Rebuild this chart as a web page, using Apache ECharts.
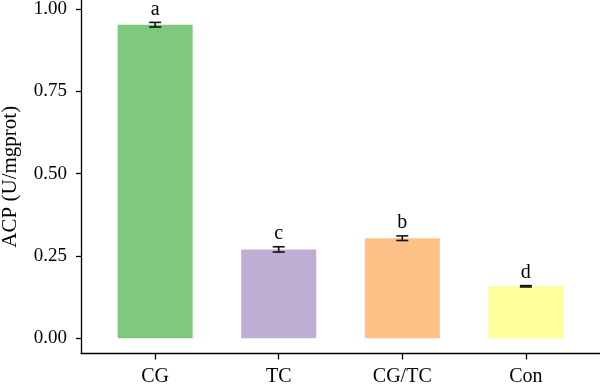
<!DOCTYPE html>
<html>
<head>
<meta charset="utf-8">
<script src="https://cdn.jsdelivr.net/npm/echarts@6/dist/echarts.min.js"></script>
<style>html,body{margin:0;padding:0;background:#fff}#c{width:600px;height:385px}</style>
</head>
<body>
<div id="c"></div>
<script>
const categories = ['CG', 'TC', 'CG/TC', 'Con'];
const positions = [1, 2, 3, 4];
const means = [0.952, 0.270, 0.304, 0.158];
const errors = [0.007, 0.008, 0.007, 0.002];
const letters = ['a', 'c', 'b', 'd'];
const colors = ['#7FC97F', '#BEAED4', '#FDC086', '#FFFF99'];
const yTicks = [0, 0.25, 0.5, 0.75, 1.0];

const FONT = 'Liberation Serif';
const chart = echarts.init(document.getElementById('c'), null, {renderer: 'canvas'});
chart.setOption({
  animation: false,
  backgroundColor: '#fff',
  grid: {left: 81, right: 0, top: 0, bottom: 31.5, containLabel: false, outerBoundsMode: 'none'},
  xAxis: {
    type: 'value', min: 0.4, max: 4.6,
    splitLine: {show: false},
    axisLine: {show: true, onZero: false, lineStyle: {color: '#000', width: 1.3}},
    axisTick: {show: true, length: 6, customValues: positions, lineStyle: {color: '#000', width: 1.3}},
    axisLabel: {customValues: positions, margin: 13, color: '#000', fontFamily: FONT, fontSize: 20,
      formatter: v => categories[Math.round(v) - 1]}
  },
  yAxis: {
    type: 'value', min: -0.046, max: 1.027,
    name: 'ACP (U/mgprot)', nameLocation: 'middle', nameGap: 60,
    nameTextStyle: {color: '#000', fontFamily: FONT, fontSize: 21},
    splitLine: {show: false},
    axisLine: {show: true, lineStyle: {color: '#000', width: 1.3}},
    axisTick: {show: true, length: 5, customValues: yTicks, lineStyle: {color: '#000', width: 1.3}},
    axisLabel: {customValues: yTicks, margin: 14, color: '#000', fontFamily: FONT, fontSize: 19,
      formatter: v => v.toFixed(2)}
  },
  series: [
    {
      type: 'bar', barWidth: 75,
      data: positions.map((p, i) => ({value: [p, means[i]], itemStyle: {color: colors[i]}}))
    },
    {
      type: 'custom', z: 5,
      data: positions.map((p, i) => [p, means[i], errors[i]]),
      renderItem: function (params, api) {
        const x = api.value(0), m = api.value(1), e = api.value(2);
        const top = api.coord([x, m + e]);
        const bot = api.coord([x, m - e]);
        const hw = 6;
        const st = {stroke: '#111', lineWidth: 1.6};
        return {
          type: 'group',
          children: [
            {type: 'line', shape: {x1: top[0], y1: top[1], x2: bot[0], y2: bot[1]}, style: st},
            {type: 'line', shape: {x1: top[0] - hw, y1: top[1], x2: top[0] + hw, y2: top[1]}, style: st},
            {type: 'line', shape: {x1: bot[0] - hw, y1: bot[1], x2: bot[0] + hw, y2: bot[1]}, style: st},
            {type: 'text', style: {text: letters[params.dataIndex], x: top[0], y: top[1] - 3,
              align: 'center', verticalAlign: 'bottom', fill: '#000', font: '20px "' + FONT + '"'}}
          ]
        };
      }
    }
  ]
});
</script>
</body>
</html>
